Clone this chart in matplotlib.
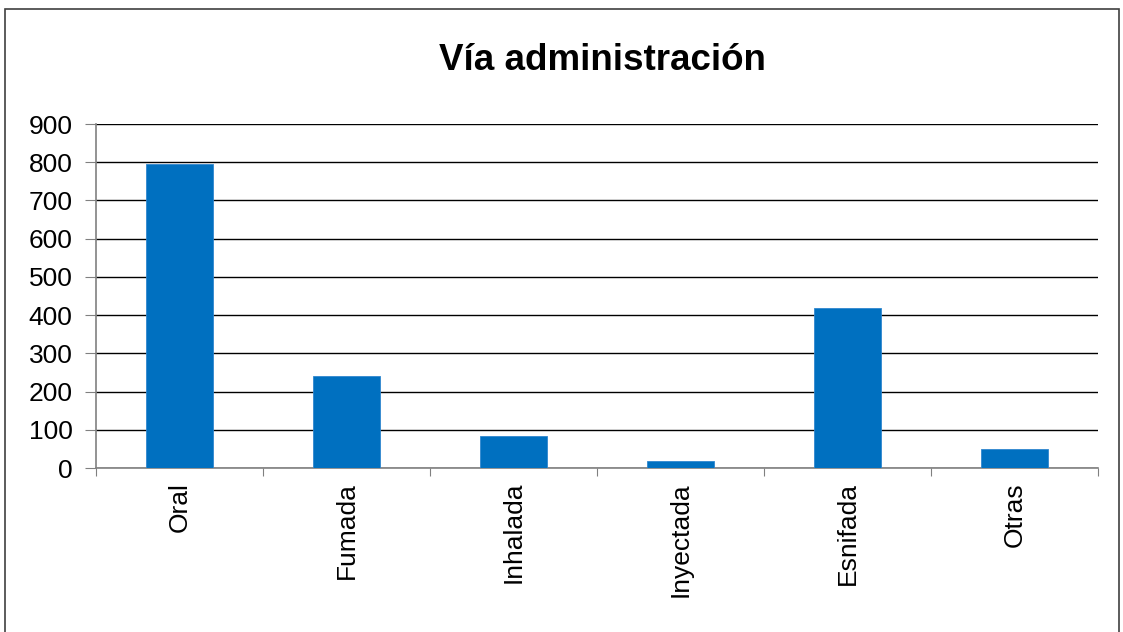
import matplotlib.pyplot as plt
import matplotlib.patches as patches
import numpy as np

plt.rcParams['font.family'] = ['Liberation Sans', 'DejaVu Sans']

# Data
categories = ['Oral', 'Fumada', 'Inhalada', 'Inyectada', 'Esnifada', 'Otras']
values = [795, 240, 85, 19, 419, 50]
yticks = [0, 100, 200, 300, 400, 500, 600, 700, 800, 900]

fig = plt.figure(figsize=(11.23, 6.32), dpi=100)
ax = fig.add_axes([96 / 1123, 1 - 468 / 632, 1002 / 1123, 344 / 632])

x = np.arange(len(categories))
ax.bar(x, values, width=0.4, color='#0070C0', edgecolor='#2F86CF', linewidth=0.6, zorder=3)

ax.set_xlim(-0.5, len(categories) - 0.5)
ax.set_ylim(0, 900)
ax.set_yticks(yticks)
ax.yaxis.grid(True, color='black', linewidth=1, zorder=0)
ax.tick_params(axis='y', labelsize=19, length=8, color='#808080', pad=9)

# boundary ticks between categories, labels at centers
ax.set_xticks(np.arange(-0.5, len(categories)), minor=False)
ax.set_xticklabels([])
ax.set_xticks(x, minor=True)
ax.set_xticklabels(categories, minor=True, rotation=90, fontsize=19)
ax.tick_params(axis='x', which='major', length=6, color='#808080')
ax.tick_params(axis='x', which='minor', length=0, pad=10)

for s in ['top', 'right']:
    ax.spines[s].set_visible(False)
for s in ['left', 'bottom']:
    ax.spines[s].set_color('#808080')
    ax.spines[s].set_linewidth(1.2)

fig.text(602 / 1123, 1 - 60 / 632, 'Vía administración', fontsize=26.5,
         fontweight='bold', ha='center', va='center')

# outer chart border
fig.patches.append(patches.Rectangle((5 / 1123, -0.1), 1114 / 1123, 1.1 - 9 / 632,
                                     transform=fig.transFigure, fill=False,
                                     edgecolor='#404040', linewidth=1.2))

fig.savefig('out.png', dpi=100)
